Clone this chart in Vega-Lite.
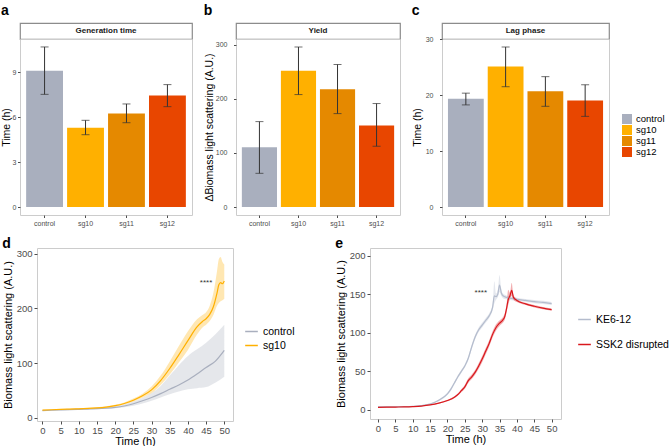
{
  "$schema": "https://vega.github.io/schema/vega-lite/v6.json",
  "padding": {"left": 0, "top": 4, "right": 0, "bottom": 0},
  "config": {
    "font": "Liberation Sans",
    "view": {"stroke": "#cccccc"},
    "axis": {"grid": false, "domain": false, "labelColor": "#4d4d4d", "tickColor": "#4d4d4d", "titleColor": "#000000", "titleFontWeight": "normal", "labelFont": "Liberation Sans", "titleFont": "Liberation Sans"},
    "title": {"fontSize": 14, "fontWeight": "bold", "anchor": "start", "frame": "bounds", "font": "Liberation Sans", "color": "#000000"},
    "legend": {"labelFont": "Liberation Sans", "labelColor": "#000000", "padding": 0}
  },
  "resolve": {"scale": {"color": "independent"}, "legend": {"color": "independent"}},
  "spacing": 9,
  "vconcat": [
    {
      "spacing": 0,
      "hconcat": [
        {"width": 1, "height": 1, "data": {"values": []}, "mark": "point", "view": {"stroke": null}},
        {
          "spacing": 10,
          "hconcat": [
            {
              "title": {"text": "a", "offset": 4},
              "bounds": "flush",
              "spacing": 0,
              "vconcat": [
                {
                  "width": 172, "height": 16,
                  "view": {"stroke": "#8c8c8c", "strokeWidth": 1.2, "fill": "#ffffff"},
                  "data": {"values": [{"label": "Generation time"}]},
                  "mark": {"type": "text", "fontWeight": "bold", "fontSize": 8, "font": "Liberation Sans", "color": "#1a1a1a"},
                  "encoding": {"text": {"field": "label"}}
                },
                {
                  "width": 172, "height": 176,
                  "data": {"values": [
                    {"group": "control", "value": 9.09, "lo": 7.51, "hi": 10.67},
                    {"group": "sg10", "value": 5.29, "lo": 4.82, "hi": 5.78},
                    {"group": "sg11", "value": 6.24, "lo": 5.62, "hi": 6.87},
                    {"group": "sg12", "value": 7.44, "lo": 6.69, "hi": 8.16}
                  ]},
                  "encoding": {
                    "x": {"field": "group", "type": "nominal", "sort": null, "scale": {"paddingInner": 0.1, "paddingOuter": 0.15}, "axis": {"title": null, "labelAngle": 0, "labelFontSize": 7, "tickSize": 2.5, "labelPadding": 2}}
                  },
                  "layer": [
                    {
                      "mark": {"type": "bar"},
                      "encoding": {
                        "y": {"field": "value", "type": "quantitative", "scale": {"domain": [-0.533, 11.2], "nice": false}, "axis": {"values": [0, 3, 6, 9], "title": "Time (h)", "titleFontSize": 10.5, "labelFontSize": 7, "tickSize": 2.5, "labelPadding": 1.5, "titlePadding": 0.5}},
                        "y2": {"datum": 0},
                        "color": {"field": "group", "type": "nominal", "scale": {"domain": ["control", "sg10", "sg11", "sg12"], "range": ["#a9afbe", "#ffb000", "#e58900", "#e84600"]}, "legend": {"orient": "none", "legendX": 622, "legendY": 91, "title": null, "symbolType": "square", "symbolSize": 100, "symbolStrokeWidth": 0, "labelFontSize": 9.5, "rowPadding": 1, "labelOffset": 4}}
                      }
                    },
                    {
                      "mark": {"type": "rule", "color": "#333333", "strokeWidth": 1},
                      "encoding": {"y": {"field": "lo", "type": "quantitative"}, "y2": {"field": "hi"}}
                    },
                    {
                      "mark": {"type": "tick", "color": "#333333", "size": 8, "thickness": 1},
                      "encoding": {"y": {"field": "lo", "type": "quantitative"}}
                    },
                    {
                      "mark": {"type": "tick", "color": "#333333", "size": 8, "thickness": 1},
                      "encoding": {"y": {"field": "hi", "type": "quantitative"}}
                    }
                  ]
                }
              ]
            },
            {
              "title": {"text": "b", "offset": 4},
              "bounds": "flush",
              "spacing": 0,
              "vconcat": [
                {
                  "width": 164, "height": 16,
                  "view": {"stroke": "#8c8c8c", "strokeWidth": 1.2, "fill": "#ffffff"},
                  "data": {"values": [{"label": "Yield"}]},
                  "mark": {"type": "text", "fontWeight": "bold", "fontSize": 8, "font": "Liberation Sans", "color": "#1a1a1a"},
                  "encoding": {"text": {"field": "label"}}
                },
                {
                  "width": 164, "height": 176,
                  "data": {"values": [
                    {"group": "control", "value": 110.5, "lo": 62.3, "hi": 158},
                    {"group": "sg10", "value": 251.9, "lo": 208, "hi": 296},
                    {"group": "sg11", "value": 218, "lo": 172.8, "hi": 263.6},
                    {"group": "sg12", "value": 150.6, "lo": 112.4, "hi": 191.4}
                  ]},
                  "encoding": {
                    "x": {"field": "group", "type": "nominal", "sort": null, "scale": {"paddingInner": 0.1, "paddingOuter": 0.15}, "axis": {"title": null, "labelAngle": 0, "labelFontSize": 7, "tickSize": 2.5, "labelPadding": 2}}
                  },
                  "layer": [
                    {
                      "mark": {"type": "bar"},
                      "encoding": {
                        "y": {"field": "value", "type": "quantitative", "scale": {"domain": [-14.8, 310.8], "nice": false}, "axis": {"values": [0, 100, 200, 300], "title": "ΔBiomass light scattering (A.U.)", "titleFontSize": 10.5, "labelFontSize": 7, "tickSize": 2.5, "labelPadding": 6.5, "titlePadding": 1}},
                        "y2": {"datum": 0},
                        "color": {"field": "group", "type": "nominal", "scale": {"domain": ["control", "sg10", "sg11", "sg12"], "range": ["#a9afbe", "#ffb000", "#e58900", "#e84600"]}}
                      }
                    },
                    {
                      "mark": {"type": "rule", "color": "#333333", "strokeWidth": 1},
                      "encoding": {"y": {"field": "lo", "type": "quantitative"}, "y2": {"field": "hi"}}
                    },
                    {
                      "mark": {"type": "tick", "color": "#333333", "size": 8, "thickness": 1},
                      "encoding": {"y": {"field": "lo", "type": "quantitative"}}
                    },
                    {
                      "mark": {"type": "tick", "color": "#333333", "size": 8, "thickness": 1},
                      "encoding": {"y": {"field": "hi", "type": "quantitative"}}
                    }
                  ]
                }
              ]
            },
            {
              "title": {"text": "c", "offset": 4},
              "bounds": "flush",
              "spacing": 0,
              "vconcat": [
                {
                  "width": 167, "height": 16,
                  "view": {"stroke": "#8c8c8c", "strokeWidth": 1.2, "fill": "#ffffff"},
                  "data": {"values": [{"label": "Lag phase"}]},
                  "mark": {"type": "text", "fontWeight": "bold", "fontSize": 8, "font": "Liberation Sans", "color": "#1a1a1a"},
                  "encoding": {"text": {"field": "label"}}
                },
                {
                  "width": 167, "height": 176,
                  "data": {"values": [
                    {"group": "control", "value": 19.35, "lo": 18.25, "hi": 20.35},
                    {"group": "sg10", "value": 25.1, "lo": 21.5, "hi": 28.6},
                    {"group": "sg11", "value": 20.7, "lo": 18.0, "hi": 23.3},
                    {"group": "sg12", "value": 19.05, "lo": 16.2, "hi": 21.85}
                  ]},
                  "encoding": {
                    "x": {"field": "group", "type": "nominal", "sort": null, "scale": {"paddingInner": 0.1, "paddingOuter": 0.15}, "axis": {"title": null, "labelAngle": 0, "labelFontSize": 7, "tickSize": 2.5, "labelPadding": 2}}
                  },
                  "layer": [
                    {
                      "mark": {"type": "bar"},
                      "encoding": {
                        "y": {"field": "value", "type": "quantitative", "scale": {"domain": [-1.43, 30.03], "nice": false}, "axis": {"values": [0, 10, 20, 30], "title": "Time (h)", "titleFontSize": 10.5, "labelFontSize": 7, "tickSize": 2.5, "labelPadding": 6.5, "titlePadding": 3}},
                        "y2": {"datum": 0},
                        "color": {"field": "group", "type": "nominal", "scale": {"domain": ["control", "sg10", "sg11", "sg12"], "range": ["#a9afbe", "#ffb000", "#e58900", "#e84600"]}}
                      }
                    },
                    {
                      "mark": {"type": "rule", "color": "#333333", "strokeWidth": 1},
                      "encoding": {"y": {"field": "lo", "type": "quantitative"}, "y2": {"field": "hi"}}
                    },
                    {
                      "mark": {"type": "tick", "color": "#333333", "size": 8, "thickness": 1},
                      "encoding": {"y": {"field": "lo", "type": "quantitative"}}
                    },
                    {
                      "mark": {"type": "tick", "color": "#333333", "size": 8, "thickness": 1},
                      "encoding": {"y": {"field": "hi", "type": "quantitative"}}
                    }
                  ]
                }
              ]
            }
          ]
        }
      ]
    },
    {
      "spacing": 0,
      "hconcat": [
        {"width": 1, "height": 1, "data": {"values": []}, "mark": "point", "view": {"stroke": null}},
        {
          "spacing": 38,
          "resolve": {"scale": {"color": "independent"}, "legend": {"color": "independent"}},
          "hconcat": [
            {
              "width": 196, "height": 173,
              "title": {"text": "d", "offset": -3},
              "data": {"values": [
                {"g": "control", "t": 0, "m": 13, "lo": 12.5, "hi": 13.5},
                {"g": "control", "t": 2.5, "m": 13.7, "lo": 13.2, "hi": 14.2},
                {"g": "control", "t": 5, "m": 14.3, "lo": 13.8, "hi": 14.9},
                {"g": "control", "t": 7.5, "m": 14.9, "lo": 14.3, "hi": 15.5},
                {"g": "control", "t": 10, "m": 15.4, "lo": 14.7, "hi": 16.1},
                {"g": "control", "t": 12.5, "m": 15.9, "lo": 15.1, "hi": 16.7},
                {"g": "control", "t": 15, "m": 16.5, "lo": 15.6, "hi": 17.5},
                {"g": "control", "t": 17.5, "m": 17.5, "lo": 16.3, "hi": 18.8},
                {"g": "control", "t": 20, "m": 19, "lo": 17.3, "hi": 20.8},
                {"g": "control", "t": 22.5, "m": 21.5, "lo": 19.2, "hi": 24},
                {"g": "control", "t": 25, "m": 25.5, "lo": 22, "hi": 29.5},
                {"g": "control", "t": 27.5, "m": 31, "lo": 26, "hi": 36},
                {"g": "control", "t": 30, "m": 37, "lo": 31, "hi": 45},
                {"g": "control", "t": 32.5, "m": 44, "lo": 37, "hi": 58},
                {"g": "control", "t": 35, "m": 52, "lo": 43, "hi": 77},
                {"g": "control", "t": 37.5, "m": 60, "lo": 48, "hi": 96},
                {"g": "control", "t": 40, "m": 69, "lo": 52, "hi": 113},
                {"g": "control", "t": 42.5, "m": 80, "lo": 54, "hi": 125},
                {"g": "control", "t": 45, "m": 92, "lo": 56, "hi": 137},
                {"g": "control", "t": 47.5, "m": 103, "lo": 64, "hi": 152},
                {"g": "control", "t": 50, "m": 123, "lo": 75, "hi": 170},
                {"g": "sg10", "t": 0, "m": 14, "lo": 13.5, "hi": 14.5},
                {"g": "sg10", "t": 2.5, "m": 14.6, "lo": 14, "hi": 15.2},
                {"g": "sg10", "t": 5, "m": 15.2, "lo": 14.6, "hi": 15.8},
                {"g": "sg10", "t": 7.5, "m": 15.7, "lo": 15.1, "hi": 16.4},
                {"g": "sg10", "t": 10, "m": 16.3, "lo": 15.6, "hi": 17.1},
                {"g": "sg10", "t": 12.5, "m": 17, "lo": 16.2, "hi": 17.9},
                {"g": "sg10", "t": 15, "m": 18, "lo": 17, "hi": 19},
                {"g": "sg10", "t": 17.5, "m": 19.5, "lo": 18.3, "hi": 20.8},
                {"g": "sg10", "t": 20, "m": 22, "lo": 20.5, "hi": 23.6},
                {"g": "sg10", "t": 22.5, "m": 26, "lo": 24.2, "hi": 28},
                {"g": "sg10", "t": 25, "m": 32, "lo": 29.5, "hi": 35},
                {"g": "sg10", "t": 27.5, "m": 40, "lo": 36.5, "hi": 44},
                {"g": "sg10", "t": 30, "m": 51, "lo": 45, "hi": 57},
                {"g": "sg10", "t": 32.5, "m": 68, "lo": 60, "hi": 77},
                {"g": "sg10", "t": 35, "m": 90, "lo": 79, "hi": 103},
                {"g": "sg10", "t": 37.5, "m": 115, "lo": 101, "hi": 131},
                {"g": "sg10", "t": 40, "m": 141, "lo": 124, "hi": 158},
                {"g": "sg10", "t": 42.5, "m": 166, "lo": 152, "hi": 180},
                {"g": "sg10", "t": 44, "m": 176, "lo": 165, "hi": 188},
                {"g": "sg10", "t": 45, "m": 181, "lo": 170, "hi": 193},
                {"g": "sg10", "t": 46, "m": 189, "lo": 177, "hi": 205},
                {"g": "sg10", "t": 47, "m": 203, "lo": 188, "hi": 228},
                {"g": "sg10", "t": 48, "m": 228, "lo": 205, "hi": 268},
                {"g": "sg10", "t": 48.5, "m": 243, "lo": 210, "hi": 290},
                {"g": "sg10", "t": 49, "m": 247, "lo": 213, "hi": 294},
                {"g": "sg10", "t": 49.5, "m": 245, "lo": 215, "hi": 285},
                {"g": "sg10", "t": 50, "m": 250, "lo": 217, "hi": 280}
              ]},
              "encoding": {
                "x": {"field": "t", "type": "quantitative", "scale": {"domain": [-1.5, 52.4], "nice": false}, "axis": {"values": [0, 5, 10, 15, 20, 25, 30, 35, 40, 45, 50], "title": "Time (h)", "titleFontSize": 11, "labelFontSize": 9.5, "tickSize": 3, "labelPadding": 1, "titlePadding": 1}}
              },
              "layer": [
                {
                  "mark": {"type": "area", "fillOpacity": 0.3, "interpolate": "monotone"},
                  "encoding": {
                    "y": {"field": "lo", "type": "quantitative", "scale": {"domain": [-6, 310.4], "nice": false}, "axis": {"values": [0, 100, 200, 300], "title": "Biomass light scattering (A.U.)", "titleFontSize": 11, "labelFontSize": 9.5, "tickSize": 3, "labelPadding": 2, "titlePadding": 3}},
                    "y2": {"field": "hi"},
                    "color": {"field": "g", "type": "nominal", "scale": {"domain": ["control", "sg10"], "range": ["#a9afbe", "#ffb000"]}}
                  }
                },
                {
                  "mark": {"type": "line", "interpolate": "monotone", "strokeWidth": 1.2},
                  "encoding": {
                    "y": {"field": "m", "type": "quantitative"},
                    "color": {"field": "g", "type": "nominal", "legend": {"orient": "none", "legendX": 207, "legendY": 76, "title": null, "symbolType": "stroke", "symbolSize": 160, "symbolStrokeWidth": 1.5, "symbolOpacity": 1, "labelFontSize": 10.5, "rowPadding": 1, "labelOffset": 4}}
                  }
                },
                {
                  "data": {"values": [{"t": 45, "m": 246, "s": "****"}]},
                  "mark": {"type": "text", "fontSize": 8, "color": "#333333"},
                  "encoding": {"y": {"field": "m", "type": "quantitative"}, "text": {"field": "s"}}
                }
              ]
            },
            {
              "width": 191, "height": 171,
              "title": {"text": "e", "offset": -3},
              "data": {"values": [
                {"g": "KE6-12", "t": 0, "m": 4, "lo": 3.6, "hi": 4.4},
                {"g": "KE6-12", "t": 2.5, "m": 4, "lo": 3.6, "hi": 4.4},
                {"g": "KE6-12", "t": 5, "m": 4.1, "lo": 3.7, "hi": 4.5},
                {"g": "KE6-12", "t": 7.5, "m": 4.3, "lo": 3.9, "hi": 4.7},
                {"g": "KE6-12", "t": 10, "m": 4.7, "lo": 4.2, "hi": 5.2},
                {"g": "KE6-12", "t": 12.5, "m": 5.6, "lo": 5, "hi": 6.2},
                {"g": "KE6-12", "t": 15, "m": 7.8, "lo": 7, "hi": 8.6},
                {"g": "KE6-12", "t": 17.5, "m": 12.5, "lo": 11.3, "hi": 13.7},
                {"g": "KE6-12", "t": 20, "m": 21, "lo": 19.5, "hi": 22.5},
                {"g": "KE6-12", "t": 21, "m": 27, "lo": 25, "hi": 29},
                {"g": "KE6-12", "t": 22, "m": 35, "lo": 33, "hi": 37},
                {"g": "KE6-12", "t": 23, "m": 43, "lo": 41, "hi": 45},
                {"g": "KE6-12", "t": 24, "m": 50, "lo": 48, "hi": 52},
                {"g": "KE6-12", "t": 25, "m": 57, "lo": 55, "hi": 59},
                {"g": "KE6-12", "t": 26, "m": 67, "lo": 64.5, "hi": 69.5},
                {"g": "KE6-12", "t": 27, "m": 82, "lo": 79, "hi": 85},
                {"g": "KE6-12", "t": 28, "m": 95, "lo": 92, "hi": 98},
                {"g": "KE6-12", "t": 29, "m": 104, "lo": 101, "hi": 107},
                {"g": "KE6-12", "t": 30, "m": 110, "lo": 107, "hi": 113},
                {"g": "KE6-12", "t": 31, "m": 116, "lo": 113, "hi": 119},
                {"g": "KE6-12", "t": 32, "m": 122, "lo": 119, "hi": 125},
                {"g": "KE6-12", "t": 33, "m": 133, "lo": 129, "hi": 137},
                {"g": "KE6-12", "t": 33.5, "m": 148, "lo": 138, "hi": 167},
                {"g": "KE6-12", "t": 34, "m": 147, "lo": 143, "hi": 151},
                {"g": "KE6-12", "t": 34.5, "m": 150, "lo": 146, "hi": 156},
                {"g": "KE6-12", "t": 35, "m": 162, "lo": 153, "hi": 175},
                {"g": "KE6-12", "t": 35.5, "m": 152, "lo": 148, "hi": 157},
                {"g": "KE6-12", "t": 36, "m": 148, "lo": 145, "hi": 151},
                {"g": "KE6-12", "t": 37, "m": 146, "lo": 143.5, "hi": 148.5},
                {"g": "KE6-12", "t": 38, "m": 145, "lo": 142.5, "hi": 147.5},
                {"g": "KE6-12", "t": 40, "m": 143.5, "lo": 141.5, "hi": 145.5},
                {"g": "KE6-12", "t": 42.5, "m": 142, "lo": 140, "hi": 144},
                {"g": "KE6-12", "t": 45, "m": 140.5, "lo": 138.5, "hi": 142.5},
                {"g": "KE6-12", "t": 47.5, "m": 139.5, "lo": 137.5, "hi": 141.5},
                {"g": "KE6-12", "t": 50, "m": 138, "lo": 136, "hi": 140},
                {"g": "SSK2 disrupted", "t": 0, "m": 3.5, "lo": 3.2, "hi": 3.8},
                {"g": "SSK2 disrupted", "t": 2.5, "m": 3.6, "lo": 3.3, "hi": 3.9},
                {"g": "SSK2 disrupted", "t": 5, "m": 3.8, "lo": 3.5, "hi": 4.1},
                {"g": "SSK2 disrupted", "t": 7.5, "m": 4, "lo": 3.7, "hi": 4.3},
                {"g": "SSK2 disrupted", "t": 10, "m": 4.4, "lo": 4, "hi": 4.8},
                {"g": "SSK2 disrupted", "t": 12.5, "m": 5.1, "lo": 4.7, "hi": 5.5},
                {"g": "SSK2 disrupted", "t": 15, "m": 6.5, "lo": 6, "hi": 7},
                {"g": "SSK2 disrupted", "t": 17.5, "m": 8.8, "lo": 8.1, "hi": 9.5},
                {"g": "SSK2 disrupted", "t": 20, "m": 12.2, "lo": 11.2, "hi": 13.2},
                {"g": "SSK2 disrupted", "t": 22, "m": 16.5, "lo": 15.2, "hi": 17.8},
                {"g": "SSK2 disrupted", "t": 23, "m": 20, "lo": 18.5, "hi": 21.5},
                {"g": "SSK2 disrupted", "t": 24, "m": 25, "lo": 23, "hi": 27},
                {"g": "SSK2 disrupted", "t": 25, "m": 30, "lo": 27.5, "hi": 32.5},
                {"g": "SSK2 disrupted", "t": 26, "m": 38, "lo": 35, "hi": 41},
                {"g": "SSK2 disrupted", "t": 27, "m": 43, "lo": 40, "hi": 46},
                {"g": "SSK2 disrupted", "t": 28, "m": 49, "lo": 46, "hi": 52},
                {"g": "SSK2 disrupted", "t": 29, "m": 57, "lo": 53.5, "hi": 60.5},
                {"g": "SSK2 disrupted", "t": 30, "m": 66, "lo": 62, "hi": 70},
                {"g": "SSK2 disrupted", "t": 31, "m": 76, "lo": 72, "hi": 80},
                {"g": "SSK2 disrupted", "t": 32, "m": 86, "lo": 82, "hi": 90},
                {"g": "SSK2 disrupted", "t": 33, "m": 98, "lo": 94, "hi": 102},
                {"g": "SSK2 disrupted", "t": 34, "m": 107, "lo": 103, "hi": 111},
                {"g": "SSK2 disrupted", "t": 35, "m": 112.5, "lo": 109, "hi": 116},
                {"g": "SSK2 disrupted", "t": 36, "m": 117, "lo": 113.5, "hi": 120.5},
                {"g": "SSK2 disrupted", "t": 36.5, "m": 121, "lo": 117, "hi": 125},
                {"g": "SSK2 disrupted", "t": 37, "m": 131, "lo": 126, "hi": 136},
                {"g": "SSK2 disrupted", "t": 37.5, "m": 143, "lo": 136, "hi": 156},
                {"g": "SSK2 disrupted", "t": 38, "m": 148, "lo": 144, "hi": 152},
                {"g": "SSK2 disrupted", "t": 38.5, "m": 155, "lo": 148, "hi": 165},
                {"g": "SSK2 disrupted", "t": 39, "m": 146, "lo": 143, "hi": 149},
                {"g": "SSK2 disrupted", "t": 40, "m": 142, "lo": 140, "hi": 144},
                {"g": "SSK2 disrupted", "t": 42.5, "m": 137.5, "lo": 136, "hi": 139},
                {"g": "SSK2 disrupted", "t": 45, "m": 134.5, "lo": 133, "hi": 136},
                {"g": "SSK2 disrupted", "t": 47.5, "m": 132, "lo": 130.5, "hi": 133.5},
                {"g": "SSK2 disrupted", "t": 50, "m": 130, "lo": 128.5, "hi": 131.5}
              ]},
              "encoding": {
                "x": {"field": "t", "type": "quantitative", "scale": {"domain": [-2.3, 52.7], "nice": false}, "axis": {"values": [0, 5, 10, 15, 20, 25, 30, 35, 40, 45, 50], "title": "Time (h)", "titleFontSize": 11, "labelFontSize": 9.5, "tickSize": 3, "labelPadding": 1, "titlePadding": 1}}
              },
              "layer": [
                {
                  "mark": {"type": "area", "fillOpacity": 0.35, "interpolate": "monotone"},
                  "encoding": {
                    "y": {"field": "lo", "type": "quantitative", "scale": {"domain": [-11.7, 210], "nice": false}, "axis": {"values": [0, 50, 100, 150, 200], "title": "Biomass light scattering (A.U.)", "titleFontSize": 11, "labelFontSize": 9.5, "tickSize": 3, "labelPadding": 2, "titlePadding": 3}},
                    "y2": {"field": "hi"},
                    "color": {"field": "g", "type": "nominal", "scale": {"domain": ["KE6-12", "SSK2 disrupted"], "range": ["#b4bccd", "#d9181d"]}}
                  }
                },
                {
                  "mark": {"type": "line", "interpolate": "monotone", "strokeWidth": 1.2},
                  "encoding": {
                    "y": {"field": "m", "type": "quantitative"},
                    "color": {"field": "g", "type": "nominal", "legend": {"orient": "none", "legendX": 207, "legendY": 64, "title": null, "symbolType": "stroke", "symbolSize": 160, "symbolStrokeWidth": 1.5, "symbolOpacity": 1, "labelFontSize": 10.5, "rowPadding": 12, "labelOffset": 4}}
                  }
                },
                {
                  "data": {"values": [{"t": 29.6, "m": 151.5, "s": "****"}]},
                  "mark": {"type": "text", "fontSize": 8, "color": "#333333"},
                  "encoding": {"y": {"field": "m", "type": "quantitative"}, "text": {"field": "s"}}
                }
              ]
            }
          ]
        }
      ]
    }
  ]
}
